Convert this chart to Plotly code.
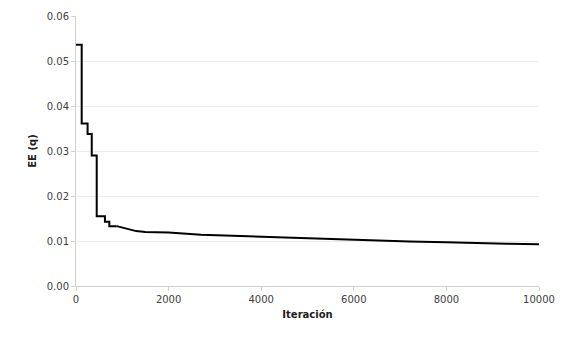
import plotly.graph_objects as go

# early stepwise phase
step_iter = [0, 123, 250, 340, 447, 625, 720, 880]
step_ee = [0.0536, 0.0361, 0.0338, 0.0290, 0.0155, 0.0143, 0.0133, 0.0133]
# slow decline phase
tail_iter = [880, 1000, 1100, 1300, 1500, 2000, 2700, 3300, 4000, 4700, 5300,
             5900, 6500, 7200, 8000, 8600, 9300, 10000]
tail_ee = [0.0133, 0.0130, 0.0127, 0.0122, 0.0120, 0.0119, 0.0114, 0.0112, 0.0109,
           0.0106, 0.0104, 0.0102, 0.0101, 0.0099, 0.0097, 0.0095, 0.0094, 0.0093]

x_ticks = [0, 2000, 4000, 6000, 8000, 10000]
y_ticks = [0.00, 0.01, 0.02, 0.03, 0.04, 0.05, 0.06]

fig = go.Figure()
fig.add_trace(go.Scatter(x=step_iter, y=step_ee, mode="lines",
                         line=dict(color="black", width=2, shape="hv"),
                         showlegend=False))
fig.add_trace(go.Scatter(x=tail_iter, y=tail_ee, mode="lines",
                         line=dict(color="black", width=2),
                         showlegend=False))

font_family = "DejaVu Sans, Verdana, sans-serif"
fig.update_layout(
    width=559, height=331,
    margin=dict(l=68, r=28, t=8, b=53),
    paper_bgcolor="white", plot_bgcolor="white",
    font=dict(family=font_family, size=10, color="#404040"),
    xaxis=dict(range=[0, 10000], tickvals=x_ticks, ticktext=[str(v) for v in x_ticks],
               showgrid=False, zeroline=False, showline=True, linecolor="#d0d0d0", linewidth=1,
               ticks="outside", ticklen=4, tickcolor="#d0d0d0", automargin=False,
               title=dict(text="<b>Iteración</b>", font=dict(size=10, color="#202020"), standoff=6)),
    yaxis=dict(range=[0, 0.06], tickvals=y_ticks, tickformat=".2f",
               showgrid=True, gridcolor="#ececec", zeroline=False,
               showline=True, linecolor="#d0d0d0", linewidth=1,
               ticks="outside", ticklen=4, tickcolor="#d0d0d0", automargin=False,
               title=dict(text="<b>EE (q)</b>", font=dict(size=10, color="#202020"), standoff=8)),
)

fig.write_html("out.html")
